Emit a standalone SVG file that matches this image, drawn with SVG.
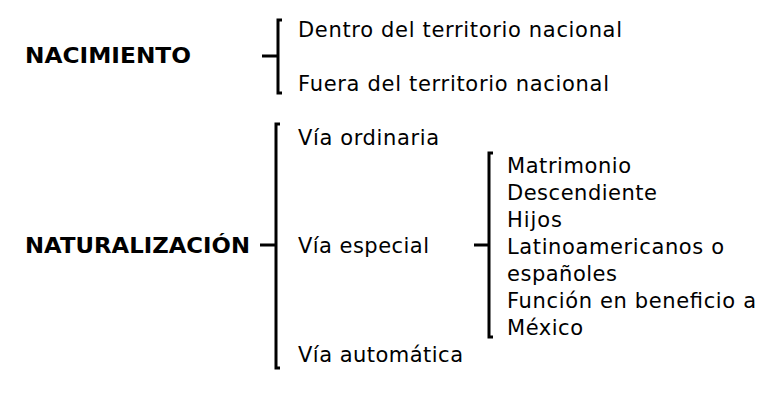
<svg xmlns="http://www.w3.org/2000/svg" width="774" height="406" viewBox="0 0 774 406">
<style>
text{font-family:"DejaVu Sans",Verdana,sans-serif;font-size:21px;fill:#000}
.b{font-weight:bold;font-size:21px}
.br{fill:none;stroke:#000;stroke-width:3}
</style>
<rect width="774" height="406" fill="#fff"/>
<g id="nacimiento"><text class="b" x="25" y="63" textLength="166" lengthAdjust="spacingAndGlyphs">NACIMIENTO</text></g>
<g id="naturalizacion"><text class="b" x="25" y="253" textLength="225" lengthAdjust="spacingAndGlyphs">NATURALIZACIÓN</text></g>
<g id="dentro"><text x="298" y="37" textLength="324" lengthAdjust="spacing">Dentro del territorio nacional</text></g>
<g id="fuera"><text x="298" y="91" textLength="311" lengthAdjust="spacing">Fuera del territorio nacional</text></g>
<g id="ordinaria"><text x="298" y="145" textLength="141" lengthAdjust="spacing">Vía ordinaria</text></g>
<g id="especial"><text x="298" y="253" textLength="131" lengthAdjust="spacing">Vía especial</text></g>
<g id="automatica"><text x="298" y="362" textLength="165" lengthAdjust="spacing">Vía automática</text></g>
<g id="lista">
<text x="507" y="173" textLength="124" lengthAdjust="spacing">Matrimonio</text>
<text x="507" y="200" textLength="150" lengthAdjust="spacing">Descendiente</text>
<text x="507" y="227" textLength="55" lengthAdjust="spacing">Hijos</text>
<text x="507" y="254" textLength="217" lengthAdjust="spacing">Latinoamericanos o</text>
<text x="507" y="281" textLength="110" lengthAdjust="spacing">españoles</text>
<text x="507" y="308" textLength="249" lengthAdjust="spacing">Función en beneficio a</text>
<text x="507" y="335" textLength="76" lengthAdjust="spacing">México</text>
</g>
<g id="connectors">
<path class="br" d="M282,20 H278 V93 H282 M262,56 H278"/>
<path class="br" d="M280,124 H276 V368 H280 M260,245 H276"/>
<path class="br" d="M493,153 H489 V337 H493 M474,245 H489"/>
</g>
</svg>
